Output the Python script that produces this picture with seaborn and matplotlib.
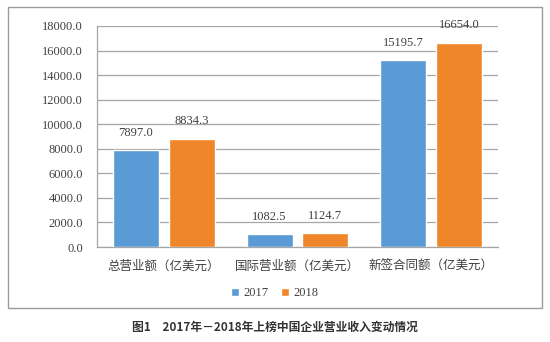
import matplotlib
matplotlib.use("Agg")
import matplotlib.pyplot as plt
from matplotlib.patches import Rectangle
import seaborn as sns
import pandas as pd

categories = ["总营业额（亿美元）", "国际营业额（亿美元）", "新签合同额（亿美元）"]
years = ["2017", "2018"]
values_2017 = [7897.0, 1082.5, 15195.7]
values_2018 = [8834.3, 1124.7, 16654.0]
yticks = [0, 2000, 4000, 6000, 8000, 10000, 12000, 14000, 16000, 18000]
caption = "图1　2017年－2018年上榜中国企业营业收入变动情况"

df = pd.DataFrame({
    "category": categories * 2,
    "year": [years[0]] * 3 + [years[1]] * 3,
    "value": values_2017 + values_2018,
})

sns.set_theme(style="white")
plt.rcParams["font.family"] = ["Liberation Serif", "Noto Sans CJK SC"]

colors = ["#5B9BD5", "#F0862A"]
grid_color = "#A6A6A6"
text_color = "#404040"

fig = plt.figure(figsize=(5.5, 3.42), dpi=100)
ax = fig.add_axes([97 / 550, 1 - 247 / 342, (498 - 97) / 550, (247 - 26) / 342])

sns.barplot(data=df, x="category", y="value", hue="year", palette=colors,
            width=0.837, gap=0.177, saturation=1, ax=ax, legend=True, zorder=3)

ax.set_ylim(0, 18000)
ax.set_yticks(yticks)
ax.set_yticklabels([f"{t:.1f}" for t in yticks], fontsize=9, color=text_color,
                   family="Liberation Serif")
ax.set_xticks(range(len(categories)))
ax.set_xticklabels(categories, fontsize=9, color=text_color,
                   family=["Noto Sans CJK SC"])
ax.tick_params(axis="both", length=0, pad=10)
ax.tick_params(axis="x", pad=9)
ax.set_xlabel("")
ax.set_ylabel("")
ax.yaxis.grid(True, color=grid_color, linewidth=0.9)
ax.set_axisbelow(True)
for side in ["top", "right"]:
    ax.spines[side].set_visible(False)
for side in ["left", "bottom"]:
    ax.spines[side].set_color(grid_color)
    ax.spines[side].set_linewidth(0.9)
ax.set_xlim(-0.5, 2.5)

# value labels above each bar
for container in ax.containers:
    ax.bar_label(container, fmt="%.1f", padding=8, fontsize=9,
                 color=text_color, family="Liberation Serif")

handles, labels = ax.get_legend_handles_labels()
ax.legend(handles, labels, loc="center", bbox_to_anchor=(275 / 550, 1 - 293 / 342),
          bbox_transform=fig.transFigure, ncol=2, frameon=False,
          handlelength=0.6, handleheight=0.6, handletextpad=0.4, columnspacing=1.0,
          prop={"family": "Liberation Serif", "size": 9}, labelcolor=text_color)

# outer frame around the chart area
fig.patches.append(Rectangle((8 / 550, 1 - 308 / 342), (542 - 8) / 550, (308 - 7) / 342,
                             transform=fig.transFigure, fill=False,
                             edgecolor="#9A9A9A", linewidth=1.0))

fig.text(0.5, 1 - 327 / 342, caption, ha="center", va="center", fontsize=8.5,
         color="#333333", family=["Noto Sans CJK SC"], fontweight="bold")

fig.savefig("out.png", dpi=100, facecolor="white")
